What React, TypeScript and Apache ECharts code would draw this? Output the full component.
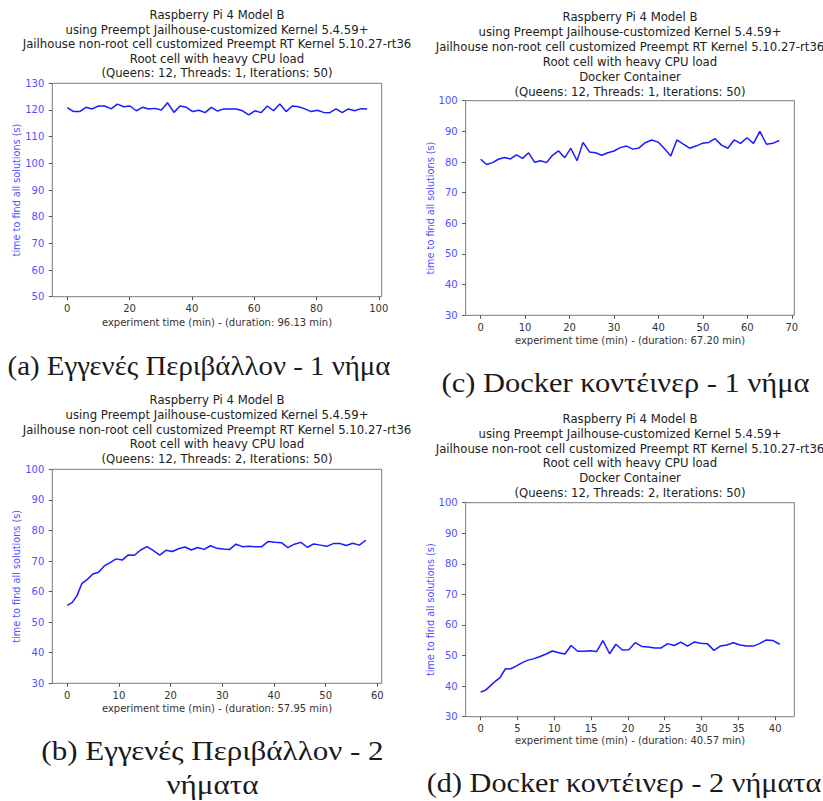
import { useEffect, useRef } from "react";
import * as echarts from "echarts";

// Time (s) to find all solutions, one value per iteration of the solver.
const nativeOneThread = [
  120.9, 119.4, 119.4, 121.0, 120.4, 121.5, 121.5, 120.4, 122.2, 121.2,
  121.5, 119.7, 121.0, 120.4, 120.6, 120.0, 122.7, 119.1, 121.5, 121.0,
  119.4, 119.9, 119.0, 121.0, 119.6, 120.4, 120.4, 120.4, 119.7, 118.2,
  119.7, 119.0, 121.5, 119.7, 122.2, 119.4, 121.5, 121.2, 120.4, 119.4,
  119.9, 119.1, 119.0, 120.4, 119.0, 120.4, 119.7, 120.5, 120.4,
];
const nativeTwoThreads = [
  55.5, 56.4, 58.6, 62.7, 64.0, 65.75, 66.3, 68.4, 69.5, 70.7,
  70.3, 72.0, 71.9, 73.6, 74.7, 73.4, 71.9, 73.5, 73.1, 74.0,
  74.6, 73.6, 74.4, 73.8, 75.0, 74.15, 73.9, 73.8, 75.5, 74.7,
  74.8, 74.7, 74.7, 76.4, 76.1, 76.0, 74.4, 75.5, 76.1, 74.5,
  75.6, 75.2, 74.8, 75.7, 75.7, 75.1, 75.8, 75.2, 76.8,
];
const dockerOneThread = [
  80.9, 79.2, 79.8, 80.9, 81.5, 81.0, 82.3, 81.2, 83.0, 79.9,
  80.4, 79.8, 82.2, 83.6, 81.4, 84.5, 80.4, 86.4, 83.3, 83.0,
  82.2, 83.0, 83.6, 84.7, 85.2, 84.2, 84.6, 86.3, 87.2, 86.5,
  84.3, 82.0, 87.2, 85.8, 84.5, 85.2, 86.1, 86.4, 87.6, 85.5,
  84.5, 87.2, 86.1, 87.9, 86.1, 90.0, 85.8, 86.1, 87.0,
];
const dockerTwoThreads = [
  38.1, 38.6, 40.0, 41.5, 42.8, 45.6, 45.7, 46.6, 47.7, 48.5,
  49.0, 49.7, 50.5, 51.5, 50.9, 50.5, 53.3, 51.4, 51.4, 51.6,
  51.3, 54.9, 50.6, 53.7, 51.8, 51.9, 54.2, 53.0, 52.8, 52.5,
  52.5, 53.9, 53.3, 54.4, 53.1, 54.4, 54.0, 53.9, 51.7, 53.1,
  53.45, 54.2, 53.45, 53.1, 53.1, 53.9, 55.1, 54.9, 53.7,
];

// Total experiment durations (min)
const durationNativeOne = 96.13;
const durationNativeTwo = 57.95;
const durationDockerOne = 67.2;
const durationDockerTwo = 40.57;

// Axis tick values
const xTicksNativeOne = [0, 20, 40, 60, 80, 100];
const xTicksNativeTwo = [0, 10, 20, 30, 40, 50, 60];
const xTicksDockerOne = [0, 10, 20, 30, 40, 50, 60, 70];
const xTicksDockerTwo = [0, 5, 10, 15, 20, 25, 30, 35, 40];
const yRangeNativeOne = [50, 130];
const yRangeOther = [30, 100];

const headerLines = [
  "Raspberry Pi 4 Model B",
  "using Preempt Jailhouse-customized Kernel 5.4.59+",
  "Jailhouse non-root cell customized Preempt RT Kernel 5.10.27-rt36",
  "Root cell with heavy CPU load",
];
const dockerLine = "Docker Container";
const paramsOne = "(Queens: 12, Threads: 1, Iterations: 50)";
const paramsTwo = "(Queens: 12, Threads: 2, Iterations: 50)";
const yAxisTitle = "time to find all solutions (s)";
const xAxisTitle = (d: number) =>
  `experiment time (min) - (duration: ${d.toFixed(2)} min)`;

const captionA = ["(a) Εγγενές Περιβάλλον - 1 νήμα"];
const captionB = ["(b) Εγγενές Περιβάλλον - 2", "νήματα"];
const captionC = ["(c) Docker κοντέινερ - 1 νήμα"];
const captionD = ["(d) Docker κοντέινερ - 2 νήματα"];

// Elapsed experiment time (min) at the start of each iteration
function elapsedMinutes(runs: number[]): number[] {
  const out: number[] = [];
  let t = 0;
  for (const r of runs) {
    out.push(t / 60);
    t += r;
  }
  return out;
}

const SANS = '"DejaVu Sans", sans-serif';
const SERIF = '"Liberation Serif", "DejaVu Serif", serif';
const LINE_BLUE = "#1a1aff";
const LABEL_BLUE = "#5050ff";

type Panel = {
  runs: number[];
  duration: number;
  xTicks: number[];
  yRange: number[];
  title: string[];
  caption: string[];
  grid: { left: number; top: number; width: number; height: number };
  titleX: number;
  titleY: number;
  titleStep: number;
  yTitleX: number;
  xTitleY: number;
  captionX: number;
  captionY: number;
  captionStretch: number;
};

const panels: Panel[] = [
  {
    runs: nativeOneThread,
    duration: durationNativeOne,
    xTicks: xTicksNativeOne,
    yRange: yRangeNativeOne,
    title: [...headerLines, paramsOne],
    caption: captionA,
    grid: { left: 52.3, top: 83.3, width: 329.4, height: 213.4 },
    titleX: 217,
    titleY: 15,
    titleStep: 14.6,
    yTitleX: 16.7,
    xTitleY: 322.3,
    captionX: 199,
    captionY: 366,
    captionStretch: 1.07,
  },
  {
    runs: dockerOneThread,
    duration: durationDockerOne,
    xTicks: xTicksDockerOne,
    yRange: yRangeOther,
    title: [...headerLines, dockerLine, paramsOne],
    caption: captionC,
    grid: { left: 465.7, top: 100.7, width: 328.6, height: 214.6 },
    titleX: 630,
    titleY: 16.7,
    titleStep: 15,
    yTitleX: 430,
    xTitleY: 340,
    captionX: 625.5,
    captionY: 383,
    captionStretch: 1.13,
  },
  {
    runs: nativeTwoThreads,
    duration: durationNativeTwo,
    xTicks: xTicksNativeTwo,
    yRange: yRangeOther,
    title: [...headerLines, paramsTwo],
    caption: captionB,
    grid: { left: 52.3, top: 469.3, width: 329.4, height: 214 },
    titleX: 217,
    titleY: 400,
    titleStep: 14.8,
    yTitleX: 16.7,
    xTitleY: 708.3,
    captionX: 212.5,
    captionY: 751,
    captionStretch: 1.15,
  },
  {
    runs: dockerTwoThreads,
    duration: durationDockerTwo,
    xTicks: xTicksDockerTwo,
    yRange: yRangeOther,
    title: [...headerLines, dockerLine, paramsTwo],
    caption: captionD,
    grid: { left: 465.7, top: 502.7, width: 328.6, height: 214 },
    titleX: 630,
    titleY: 419.3,
    titleStep: 14.7,
    yTitleX: 430,
    xTitleY: 740,
    captionX: 624,
    captionY: 783,
    captionStretch: 1.12,
  },
];

function buildOption(): echarts.EChartsOption {
  const grid: any[] = [];
  const xAxis: any[] = [];
  const yAxis: any[] = [];
  const series: any[] = [];
  const graphic: any[] = [];

  panels.forEach((p, i) => {
    grid.push({
      ...p.grid,
      containLabel: false,
      outerBoundsMode: "none",
      show: true,
      borderColor: "#7a7a7a",
      borderWidth: 1,
      backgroundColor: "#fff",
    });
    xAxis.push({
      type: "value",
      gridIndex: i,
      min: -0.05 * p.duration,
      max: 1.05 * p.duration,
      splitLine: { show: false },
      axisLine: { show: false, onZero: false },
      axisTick: {
        show: true,
        length: 3.5,
        lineStyle: { color: "#555" },
        customValues: p.xTicks,
      },
      axisLabel: {
        customValues: p.xTicks,
        color: "#333",
        fontFamily: SANS,
        fontSize: 10,
        margin: 7,
      },
    });
    yAxis.push({
      type: "value",
      gridIndex: i,
      min: p.yRange[0],
      max: p.yRange[1],
      interval: 10,
      splitLine: { show: false },
      axisLine: { show: false, onZero: false },
      axisTick: { show: true, length: 3.5, lineStyle: { color: "#555" } },
      axisLabel: {
        color: LABEL_BLUE,
        fontFamily: SANS,
        fontSize: 10,
        margin: 8,
      },
    });
    const times = elapsedMinutes(p.runs);
    series.push({
      type: "line",
      xAxisIndex: i,
      yAxisIndex: i,
      data: p.runs.map((v, k) => [times[k], v]),
      showSymbol: false,
      lineStyle: { color: LINE_BLUE, width: 1.5 },
      silent: true,
    });

    p.title.forEach((line, k) => {
      graphic.push({
        type: "text",
        x: p.titleX,
        y: p.titleY + k * p.titleStep,
        style: {
          text: line,
          font: `11.7px ${SANS}`,
          fill: "#222",
          align: "center",
          verticalAlign: "middle",
        },
      });
    });
    graphic.push({
      type: "text",
      x: p.yTitleX,
      y: p.grid.top + p.grid.height / 2,
      rotation: Math.PI / 2,
      style: {
        text: yAxisTitle,
        font: `9.7px ${SANS}`,
        fill: LABEL_BLUE,
        align: "center",
        verticalAlign: "middle",
      },
    });
    graphic.push({
      type: "text",
      x: p.grid.left + p.grid.width / 2,
      y: p.xTitleY,
      style: {
        text: xAxisTitle(p.duration),
        font: `10px ${SANS}`,
        fill: "#333",
        align: "center",
        verticalAlign: "middle",
      },
    });
    p.caption.forEach((line, k) => {
      graphic.push({
        type: "text",
        x: p.captionX,
        y: p.captionY + k * 34,
        scaleX: p.captionStretch,
        style: {
          text: line,
          font: `27px ${SERIF}`,
          fill: "#1a1a1a",
          align: "center",
          verticalAlign: "middle",
        },
      });
    });
  });

  return {
    animation: false,
    backgroundColor: "#fff",
    grid,
    xAxis,
    yAxis,
    series,
    graphic,
  };
}

export default function App() {
  const ref = useRef<HTMLDivElement>(null);
  useEffect(() => {
    if (!ref.current) return;
    const chart = echarts.init(ref.current, undefined, { renderer: "svg" });
    chart.setOption(buildOption());
    return () => chart.dispose();
  }, []);
  return (
    <div
      ref={ref}
      style={{
        position: "fixed",
        left: 0,
        top: 0,
        width: 823,
        height: 801,
        background: "#fff",
      }}
    />
  );
}
